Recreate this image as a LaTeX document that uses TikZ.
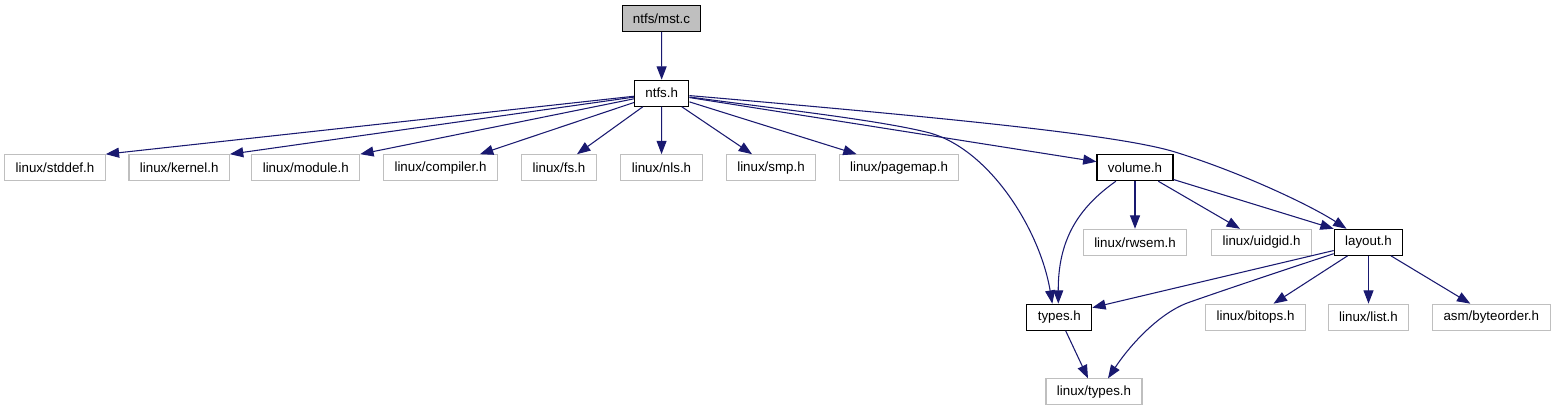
\documentclass[tikz,border=0pt]{standalone}
\usepackage{fontspec}
\setmainfont{Liberation Sans}
\usetikzlibrary{arrows.meta,calc}
\definecolor{edgeblue}{HTML}{191970}
\definecolor{extgray}{HTML}{BFBFBF}
\tikzset{
  box/.style={line width=0.8pt, minimum height=19.5pt, inner xsep=8.2pt, inner ysep=0pt,
              font=\fontsize{10}{12}\selectfont, anchor=center},
  ext/.style={box, draw=extgray},
  own/.style={box, draw=black},
  cur/.style={box, draw=black, fill=extgray},
  dep/.style={draw=edgeblue, line width=0.8pt, -{Triangle[length=10pt,width=7.5pt]}}
}
\begin{document}
\begin{tikzpicture}[x=0.75pt,y=-0.75pt]
\useasboundingbox (0,0) rectangle (1555,411);
% nodes
\node[cur] (mst) at (661.5,18.5) {ntfs/mst.c};
\node[own] (ntfs) at (661.7,93.2) {ntfs.h};
\node[ext] (stddef) at (55,167.7) {linux/stddef.h};
\node[ext] (kernel) at (179.2,167.7) {linux/kernel.h};
\node[ext] (module) at (305.8,167.7) {linux/module.h};
\node[ext] (compiler) at (440.5,167.7) {linux/compiler.h};
\node[ext] (fs) at (559,167.7) {linux/fs.h};
\node[ext] (nls) at (661.5,167.7) {linux/nls.h};
\node[ext] (smp) at (771,167.7) {linux/smp.h};
\node[ext] (pagemap) at (899,167.7) {linux/pagemap.h};
\node[own] (volume) at (1135,167.7) {volume.h};
\node[ext] (rwsem) at (1135,242.3) {linux/rwsem.h};
\node[ext] (uidgid) at (1261.5,242.3) {linux/uidgid.h};
\node[own] (layout) at (1368.5,242.3) {layout.h};
\node[own] (types) at (1059.3,317.2) {types.h};
\node[ext] (bitops) at (1255.5,317.2) {linux/bitops.h};
\node[ext] (list) at (1368.5,317.2) {linux/list.h};
\node[ext] (byteorder) at (1491.3,317.2) {asm/byteorder.h};
\node[ext] (ltypes) at (1094,391.9) {linux/types.h};
% edges
\draw[dep] (mst) -- (ntfs);
\draw[dep] (ntfs) -- (stddef.north east);
\draw[dep] (ntfs) -- (kernel.north east);
\draw[dep] (ntfs) -- (module.north east);
\draw[dep] (ntfs) -- ($(compiler.north east)+(-18,0)$);
\draw[dep] (ntfs) -- ($(fs.north)+(18,0)$);
\draw[dep] (ntfs) -- (nls);
\draw[dep] (ntfs) -- ($(smp.north)+(-19,0)$);
\draw[dep] (ntfs) -- ($(pagemap.north west)+(18,0)$);
\draw[dep] (ntfs) -- ($(volume.west)+(0,-6)$);
\draw[dep] (ntfs) .. controls (770,108) and (880,120) .. (930,133)
  .. controls (990,150) and (1040,230) .. ($(types.north)+(-7,0)$);
\draw[dep] (ntfs) .. controls (950,118) and (1120,135) .. (1175,152)
  .. controls (1240,172) and (1310,205) .. ($(layout.north)+(-22,0)$);
\draw[dep] (volume) .. controls (1078,208) and (1058,240) .. ($(types.north)+(-1,0)$);
\draw[dep] (volume) -- (rwsem);
\draw[dep] (volume) -- ($(uidgid.north)+(-21.5,0)$);
\draw[dep] (volume) -- (layout.north west);
\draw[dep] (layout) -- ($(types.north east)+(0,4)$);
\draw[dep] (layout) .. controls (1290,268) and (1230,288) .. (1190,302)
  .. controls (1160,312) and (1130,345) .. ($(ltypes.north)+(14,0)$);
\draw[dep] (layout) -- ($(bitops.north)+(18,0)$);
\draw[dep] (layout) -- (list);
\draw[dep] (layout) -- ($(byteorder.north)+(-21,0)$);
\draw[dep] (types) -- ($(ltypes.north)+(-6,0)$);
\end{tikzpicture}
\end{document}
